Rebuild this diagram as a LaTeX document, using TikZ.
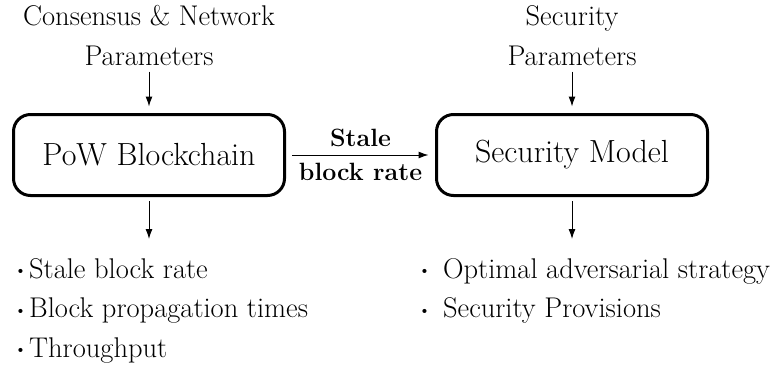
\documentclass[tikz,border=0pt]{standalone}
\usepackage{fontspec}
\usetikzlibrary{arrows.meta, positioning}

% raised dot for the output lists
\newcommand{\idot}{\raisebox{0.16em}{\bfseries .}}

\begin{document}
\begin{tikzpicture}[
      x=1pt, y=1pt,
      node distance=40pt,
      block/.style={rectangle, draw, rounded corners=17pt, line width=3pt, minimum width=271pt, minimum height=81pt, text centered, font=\fontsize{32}{38}\selectfont},
      param/.style={align=center, inner sep=0pt, font=\fontsize{28.5}{40}\selectfont},
      outlist/.style={align=left, inner sep=0pt, font=\fontsize{28.5}{39.5}\selectfont},
      rate/.style={font=\fontsize{25}{30}\selectfont\bfseries, inner sep=8pt},
      arrow/.style={-{Latex[length=10pt, width=7pt]}, line width=1pt}
  ]
      \useasboundingbox (0,0) rectangle (775,376);

      % Main blocks
      \node[block] (chain) at (149,221) {PoW Blockchain};
      \node[block, right=149pt of chain] (model) {Security Model};

      % Input parameters
      \node[param, above=47.5pt of chain] (cnp) {Consensus \& Network\\Parameters};
      \node[param, above=47.5pt of model] (sp) {Security\\Parameters};

      % Outputs
      \coordinate[below=42pt of chain] (chainout);
      \coordinate[below=42pt of model] (modelout);
      \node[outlist, below=61pt of chain.south west, anchor=north west, xshift=4pt] (cmetrics) {\idot\hspace{4pt}Stale block rate\\\idot\hspace{4pt}Block propagation times\\\idot\hspace{4pt}Throughput};
      \node[outlist, below=61pt of model.south west, anchor=north west, xshift=-15pt] (smetrics) {\idot\hspace{14pt}Optimal adversarial strategy\\\idot\hspace{14pt}Security Provisions};

      % Arrows
      \draw[arrow, shorten <=6pt, shorten >=6.5pt] (cnp) -- (chain);
      \draw[arrow, shorten <=6pt, shorten >=6.5pt] (sp) -- (model);
      \draw[arrow, shorten <=6pt, shorten >=6.5pt] (chain) -- node[rate, above] {Stale} node[rate, below] {block rate} (model);
      \draw[arrow, shorten <=4pt] (chain) -- (chainout);
      \draw[arrow, shorten <=4pt] (model) -- (modelout);
  \end{tikzpicture}
\end{document}
